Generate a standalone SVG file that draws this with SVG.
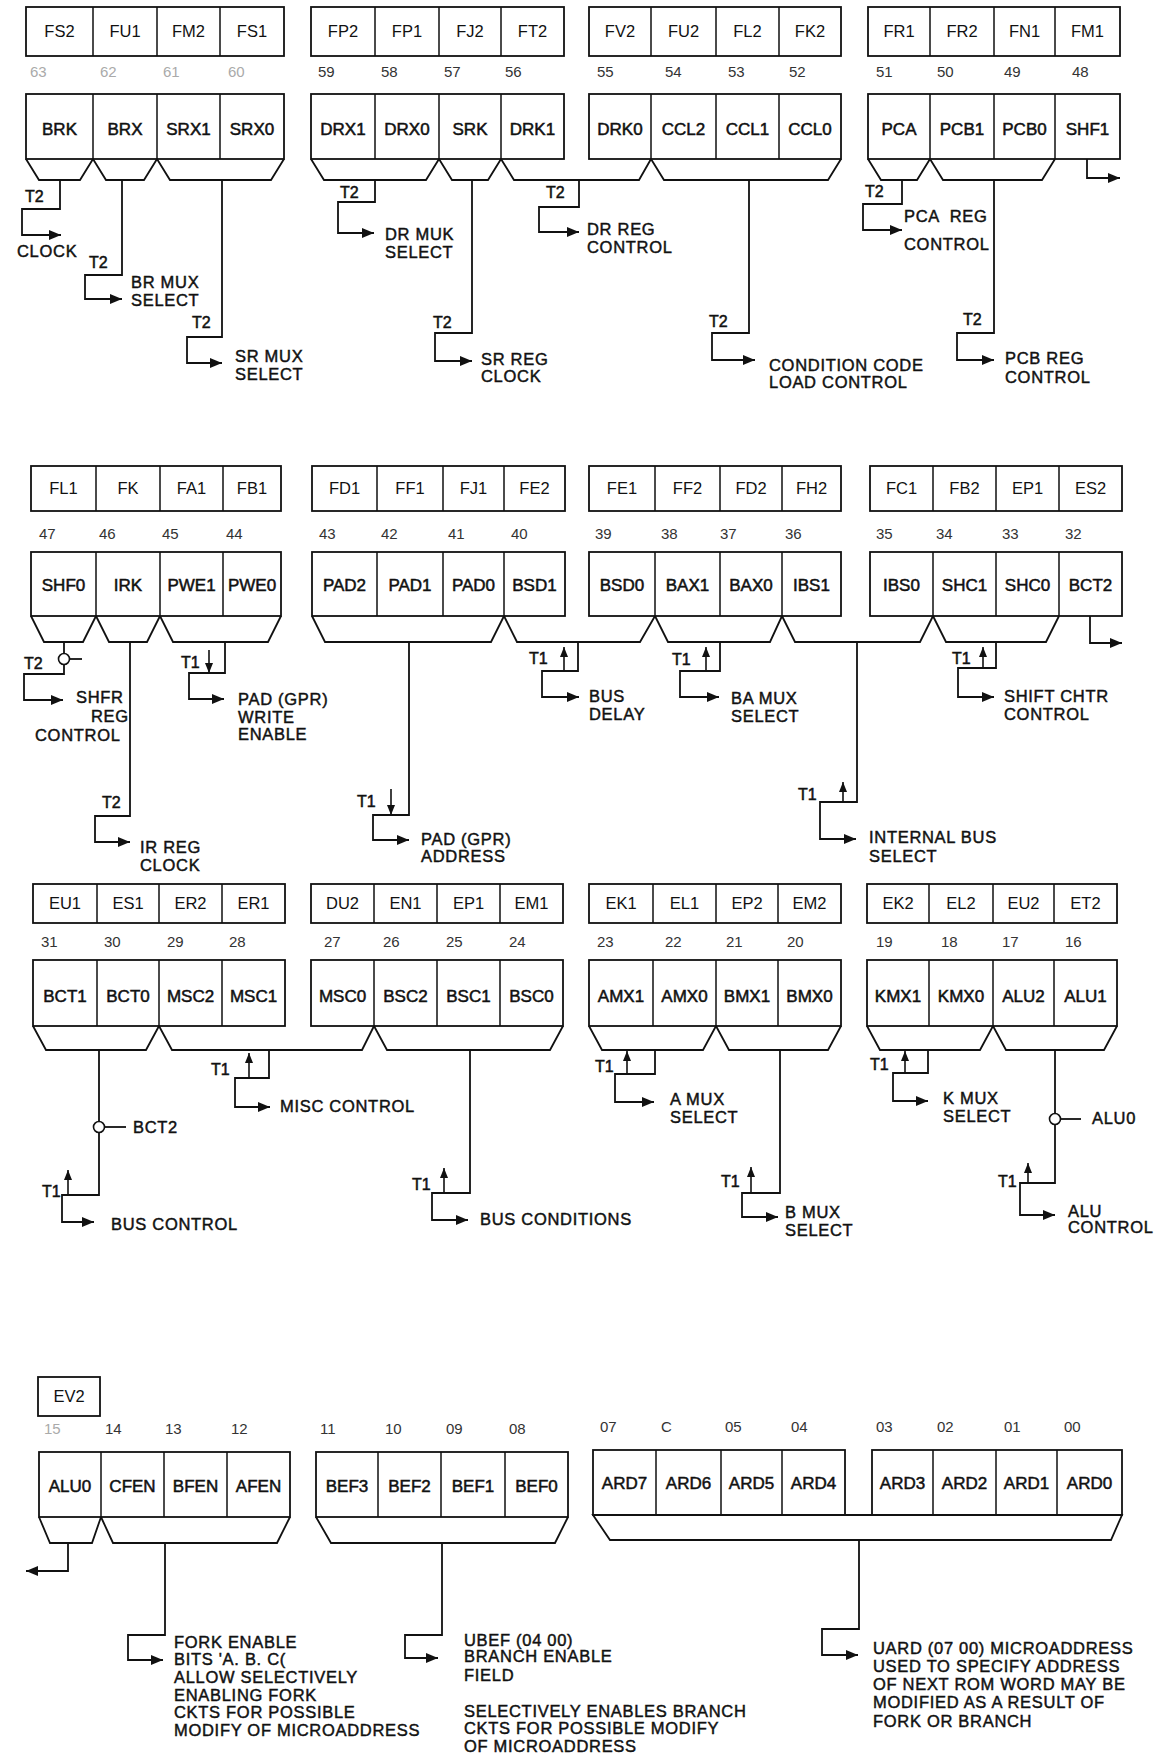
<svg xmlns="http://www.w3.org/2000/svg" width="1160" height="1756" viewBox="0 0 1160 1756">
<defs>
<style>
.bx{fill:#fff;stroke:#111;stroke-width:1.8}
.dv{fill:none;stroke:#111;stroke-width:1.5}
.ln{fill:none;stroke:#111;stroke-width:1.8}
.ar{fill:none;stroke:#111;stroke-width:1.8;marker-end:url(#ah)}
.sa{fill:none;stroke:#111;stroke-width:1.6;marker-end:url(#as)}
.ci{fill:#fff;stroke:#111;stroke-width:1.6}
.tc{font-family:"Liberation Sans",Arial,sans-serif;font-size:16.5px;text-anchor:middle;fill:#111}
.bc{font-family:"Liberation Sans",Arial,sans-serif;font-size:17px;text-anchor:middle;fill:#111;stroke:#111;stroke-width:0.5}
.nm{font-family:"Liberation Sans",Arial,sans-serif;font-size:15px;fill:#333}
.fn{fill:#aaa}
.lb{font-family:"Liberation Sans",Arial,sans-serif;font-size:16.5px;fill:#111;stroke:#111;stroke-width:0.45;letter-spacing:0.7px}
.tl{font-family:"Liberation Sans",Arial,sans-serif;font-size:16px;fill:#111;stroke:#111;stroke-width:0.5}
</style>
<marker id="ah" viewBox="0 0 12 10" refX="12" refY="5" markerWidth="12" markerHeight="10" markerUnits="userSpaceOnUse" orient="auto"><path d="M0,0L12,5L0,10z" fill="#111"/></marker>
<marker id="as" viewBox="0 0 10 8" refX="10" refY="4" markerWidth="10" markerHeight="8" markerUnits="userSpaceOnUse" orient="auto"><path d="M0,0L10,4L0,8z" fill="#111"/></marker>
</defs>
<rect width="1160" height="1756" fill="#fff"/>

<!-- ROW 1 -->
<g id="r1-codes-a"><rect class="bx" x="26" y="7" width="258" height="49"/><path class="dv" d="M93,7V56M157,7V56M220,7V56"/>
<text class="tc" x="59.5" y="37">FS2</text><text class="tc" x="125" y="37">FU1</text><text class="tc" x="188.5" y="37">FM2</text><text class="tc" x="252" y="37">FS1</text></g>
<g id="r1-codes-b"><rect class="bx" x="311" y="7" width="253" height="49"/><path class="dv" d="M375,7V56M439,7V56M501,7V56"/>
<text class="tc" x="343" y="37">FP2</text><text class="tc" x="407" y="37">FP1</text><text class="tc" x="470" y="37">FJ2</text><text class="tc" x="532.5" y="37">FT2</text></g>
<g id="r1-codes-c"><rect class="bx" x="589" y="7" width="252" height="49"/><path class="dv" d="M651,7V56M716,7V56M779,7V56"/>
<text class="tc" x="620" y="37">FV2</text><text class="tc" x="683.5" y="37">FU2</text><text class="tc" x="747.5" y="37">FL2</text><text class="tc" x="810" y="37">FK2</text></g>
<g id="r1-codes-d"><rect class="bx" x="868" y="7" width="252" height="49"/><path class="dv" d="M930,7V56M994,7V56M1055,7V56"/>
<text class="tc" x="899" y="37">FR1</text><text class="tc" x="962" y="37">FR2</text><text class="tc" x="1024.5" y="37">FN1</text><text class="tc" x="1087.5" y="37">FM1</text></g>
<g id="r1-nums">
<text class="nm fn" x="30" y="77">63</text><text class="nm fn" x="100" y="77">62</text><text class="nm fn" x="163" y="77">61</text><text class="nm fn" x="228" y="77">60</text>
<text class="nm" x="318" y="77">59</text><text class="nm" x="381" y="77">58</text><text class="nm" x="444" y="77">57</text><text class="nm" x="505" y="77">56</text>
<text class="nm" x="597" y="77">55</text><text class="nm" x="665" y="77">54</text><text class="nm" x="728" y="77">53</text><text class="nm" x="789" y="77">52</text>
<text class="nm" x="876" y="77">51</text><text class="nm" x="937" y="77">50</text><text class="nm" x="1004" y="77">49</text><text class="nm" x="1072" y="77">48</text></g>
<g id="r1-bits-a"><rect class="bx" x="26" y="94" width="258" height="65"/><path class="dv" d="M93,94V159M157,94V159M220,94V159"/>
<text class="bc" x="59.5" y="135">BRK</text><text class="bc" x="125" y="135">BRX</text><text class="bc" x="188.5" y="135">SRX1</text><text class="bc" x="252" y="135">SRX0</text></g>
<g id="r1-bits-b"><rect class="bx" x="311" y="94" width="253" height="65"/><path class="dv" d="M375,94V159M439,94V159M501,94V159"/>
<text class="bc" x="343" y="135">DRX1</text><text class="bc" x="407" y="135">DRX0</text><text class="bc" x="470" y="135">SRK</text><text class="bc" x="532.5" y="135">DRK1</text></g>
<g id="r1-bits-c"><rect class="bx" x="589" y="94" width="252" height="65"/><path class="dv" d="M651,94V159M716,94V159M779,94V159"/>
<text class="bc" x="620" y="135">DRK0</text><text class="bc" x="683.5" y="135">CCL2</text><text class="bc" x="747.5" y="135">CCL1</text><text class="bc" x="810" y="135">CCL0</text></g>
<g id="r1-bits-d"><rect class="bx" x="868" y="94" width="252" height="65"/><path class="dv" d="M930,94V159M994,94V159M1055,94V159"/>
<text class="bc" x="899" y="135">PCA</text><text class="bc" x="962" y="135">PCB1</text><text class="bc" x="1024.5" y="135">PCB0</text><text class="bc" x="1087.5" y="135">SHF1</text></g>

<!-- ROW 2 -->
<g id="r2-codes-a"><rect class="bx" x="31" y="466" width="250" height="45"/><path class="dv" d="M96,466V511M160,466V511M223,466V511"/>
<text class="tc" x="63.5" y="494">FL1</text><text class="tc" x="128" y="494">FK</text><text class="tc" x="191.5" y="494">FA1</text><text class="tc" x="252" y="494">FB1</text></g>
<g id="r2-codes-b"><rect class="bx" x="312" y="466" width="253" height="45"/><path class="dv" d="M377,466V511M443,466V511M504,466V511"/>
<text class="tc" x="344.5" y="494">FD1</text><text class="tc" x="410" y="494">FF1</text><text class="tc" x="473.5" y="494">FJ1</text><text class="tc" x="534.5" y="494">FE2</text></g>
<g id="r2-codes-c"><rect class="bx" x="589" y="466" width="252" height="45"/><path class="dv" d="M655,466V511M720,466V511M782,466V511"/>
<text class="tc" x="622" y="494">FE1</text><text class="tc" x="687.5" y="494">FF2</text><text class="tc" x="751" y="494">FD2</text><text class="tc" x="811.5" y="494">FH2</text></g>
<g id="r2-codes-d"><rect class="bx" x="870" y="466" width="252" height="45"/><path class="dv" d="M933,466V511M996,466V511M1059,466V511"/>
<text class="tc" x="901.5" y="494">FC1</text><text class="tc" x="964.5" y="494">FB2</text><text class="tc" x="1027.5" y="494">EP1</text><text class="tc" x="1090.5" y="494">ES2</text></g>
<g id="r2-nums">
<text class="nm" x="39" y="539">47</text><text class="nm" x="99" y="539">46</text><text class="nm" x="162" y="539">45</text><text class="nm" x="226" y="539">44</text>
<text class="nm" x="319" y="539">43</text><text class="nm" x="381" y="539">42</text><text class="nm" x="448" y="539">41</text><text class="nm" x="511" y="539">40</text>
<text class="nm" x="595" y="539">39</text><text class="nm" x="661" y="539">38</text><text class="nm" x="720" y="539">37</text><text class="nm" x="785" y="539">36</text>
<text class="nm" x="876" y="539">35</text><text class="nm" x="936" y="539">34</text><text class="nm" x="1002" y="539">33</text><text class="nm" x="1065" y="539">32</text></g>
<g id="r2-bits-a"><rect class="bx" x="31" y="552" width="250" height="64"/><path class="dv" d="M96,552V616M160,552V616M223,552V616"/>
<text class="bc" x="63.5" y="591">SHF0</text><text class="bc" x="128" y="591">IRK</text><text class="bc" x="191.5" y="591">PWE1</text><text class="bc" x="252" y="591">PWE0</text></g>
<g id="r2-bits-b"><rect class="bx" x="312" y="552" width="253" height="64"/><path class="dv" d="M377,552V616M443,552V616M504,552V616"/>
<text class="bc" x="344.5" y="591">PAD2</text><text class="bc" x="410" y="591">PAD1</text><text class="bc" x="473.5" y="591">PAD0</text><text class="bc" x="534.5" y="591">BSD1</text></g>
<g id="r2-bits-c"><rect class="bx" x="589" y="552" width="252" height="64"/><path class="dv" d="M655,552V616M720,552V616M782,552V616"/>
<text class="bc" x="622" y="591">BSD0</text><text class="bc" x="687.5" y="591">BAX1</text><text class="bc" x="751" y="591">BAX0</text><text class="bc" x="811.5" y="591">IBS1</text></g>
<g id="r2-bits-d"><rect class="bx" x="870" y="552" width="252" height="64"/><path class="dv" d="M933,552V616M996,552V616M1059,552V616"/>
<text class="bc" x="901.5" y="591">IBS0</text><text class="bc" x="964.5" y="591">SHC1</text><text class="bc" x="1027.5" y="591">SHC0</text><text class="bc" x="1090.5" y="591">BCT2</text></g>

<!-- ROW 3 -->
<g id="r3-codes-a"><rect class="bx" x="33" y="884" width="252" height="39"/><path class="dv" d="M97,884V923M159,884V923M222,884V923"/>
<text class="tc" x="65" y="909">EU1</text><text class="tc" x="128" y="909">ES1</text><text class="tc" x="190.5" y="909">ER2</text><text class="tc" x="253.5" y="909">ER1</text></g>
<g id="r3-codes-b"><rect class="bx" x="311" y="884" width="252" height="39"/><path class="dv" d="M374,884V923M437,884V923M500,884V923"/>
<text class="tc" x="342.5" y="909">DU2</text><text class="tc" x="405.5" y="909">EN1</text><text class="tc" x="468.5" y="909">EP1</text><text class="tc" x="531.5" y="909">EM1</text></g>
<g id="r3-codes-c"><rect class="bx" x="589" y="884" width="252" height="39"/><path class="dv" d="M653,884V923M716,884V923M778,884V923"/>
<text class="tc" x="621" y="909">EK1</text><text class="tc" x="684.5" y="909">EL1</text><text class="tc" x="747" y="909">EP2</text><text class="tc" x="809.5" y="909">EM2</text></g>
<g id="r3-codes-d"><rect class="bx" x="867" y="884" width="250" height="39"/><path class="dv" d="M929,884V923M993,884V923M1054,884V923"/>
<text class="tc" x="898" y="909">EK2</text><text class="tc" x="961" y="909">EL2</text><text class="tc" x="1023.5" y="909">EU2</text><text class="tc" x="1085.5" y="909">ET2</text></g>
<g id="r3-nums">
<text class="nm" x="41" y="947">31</text><text class="nm" x="104" y="947">30</text><text class="nm" x="167" y="947">29</text><text class="nm" x="229" y="947">28</text>
<text class="nm" x="324" y="947">27</text><text class="nm" x="383" y="947">26</text><text class="nm" x="446" y="947">25</text><text class="nm" x="509" y="947">24</text>
<text class="nm" x="597" y="947">23</text><text class="nm" x="665" y="947">22</text><text class="nm" x="726" y="947">21</text><text class="nm" x="787" y="947">20</text>
<text class="nm" x="876" y="947">19</text><text class="nm" x="941" y="947">18</text><text class="nm" x="1002" y="947">17</text><text class="nm" x="1065" y="947">16</text></g>
<g id="r3-bits-a"><rect class="bx" x="33" y="960" width="252" height="66"/><path class="dv" d="M97,960V1026M159,960V1026M222,960V1026"/>
<text class="bc" x="65" y="1002">BCT1</text><text class="bc" x="128" y="1002">BCT0</text><text class="bc" x="190.5" y="1002">MSC2</text><text class="bc" x="253.5" y="1002">MSC1</text></g>
<g id="r3-bits-b"><rect class="bx" x="311" y="960" width="252" height="66"/><path class="dv" d="M374,960V1026M437,960V1026M500,960V1026"/>
<text class="bc" x="342.5" y="1002">MSC0</text><text class="bc" x="405.5" y="1002">BSC2</text><text class="bc" x="468.5" y="1002">BSC1</text><text class="bc" x="531.5" y="1002">BSC0</text></g>
<g id="r3-bits-c"><rect class="bx" x="589" y="960" width="252" height="66"/><path class="dv" d="M653,960V1026M716,960V1026M778,960V1026"/>
<text class="bc" x="621" y="1002">AMX1</text><text class="bc" x="684.5" y="1002">AMX0</text><text class="bc" x="747" y="1002">BMX1</text><text class="bc" x="809.5" y="1002">BMX0</text></g>
<g id="r3-bits-d"><rect class="bx" x="867" y="960" width="250" height="66"/><path class="dv" d="M929,960V1026M993,960V1026M1054,960V1026"/>
<text class="bc" x="898" y="1002">KMX1</text><text class="bc" x="961" y="1002">KMX0</text><text class="bc" x="1023.5" y="1002">ALU2</text><text class="bc" x="1085.5" y="1002">ALU1</text></g>

<!-- ROW 4 -->
<g id="r4-codes-a"><rect class="bx" x="38" y="1377" width="62" height="39"/><text class="tc" x="69" y="1402">EV2</text></g>
<g id="r4-nums">
<text class="nm fn" x="44" y="1434">15</text><text class="nm" x="105" y="1434">14</text><text class="nm" x="165" y="1434">13</text><text class="nm" x="231" y="1434">12</text>
<text class="nm" x="320" y="1434">11</text><text class="nm" x="385" y="1434">10</text><text class="nm" x="446" y="1434">09</text><text class="nm" x="509" y="1434">08</text>
<text class="nm" x="600" y="1432">07</text><text class="nm" x="661" y="1432">C</text><text class="nm" x="725" y="1432">05</text><text class="nm" x="791" y="1432">04</text>
<text class="nm" x="876" y="1432">03</text><text class="nm" x="937" y="1432">02</text><text class="nm" x="1004" y="1432">01</text><text class="nm" x="1064" y="1432">00</text></g>
<g id="r4-bits-a"><rect class="bx" x="39" y="1452" width="251" height="65"/><path class="dv" d="M101,1452V1517M164,1452V1517M227,1452V1517"/>
<text class="bc" x="70" y="1492">ALU0</text><text class="bc" x="132.5" y="1492">CFEN</text><text class="bc" x="195.5" y="1492">BFEN</text><text class="bc" x="258.5" y="1492">AFEN</text></g>
<g id="r4-bits-b"><rect class="bx" x="316" y="1452" width="252" height="65"/><path class="dv" d="M378,1452V1517M441,1452V1517M505,1452V1517"/>
<text class="bc" x="347" y="1492">BEF3</text><text class="bc" x="409.5" y="1492">BEF2</text><text class="bc" x="473" y="1492">BEF1</text><text class="bc" x="536.5" y="1492">BEF0</text></g>
<g id="r4-bits-c"><rect class="bx" x="593" y="1450" width="252" height="65"/><path class="dv" d="M656,1450V1515M721,1450V1515M782,1450V1515"/>
<text class="bc" x="624.5" y="1489">ARD7</text><text class="bc" x="688.5" y="1489">ARD6</text><text class="bc" x="751.5" y="1489">ARD5</text><text class="bc" x="813.5" y="1489">ARD4</text></g>
<g id="r4-bits-d"><rect class="bx" x="872" y="1450" width="250" height="65"/><path class="dv" d="M933,1450V1515M996,1450V1515M1057,1450V1515"/>
<text class="bc" x="902.5" y="1489">ARD3</text><text class="bc" x="964.5" y="1489">ARD2</text><text class="bc" x="1026.5" y="1489">ARD1</text><text class="bc" x="1089.5" y="1489">ARD0</text></g>

<!-- decoders (trapezoid fields) -->
<g id="decoders" class="ln">
<polyline points="26,159 39,180 80,180 93,159"/>
<polyline points="93,159 106,180 144,180 157,159"/>
<polyline points="157,159 170,180 271,180 284,159"/>
<polyline points="311,159 324,180 426,180 439,159"/>
<polyline points="439,159 452,180 488,180 501,159"/>
<polyline points="501,159 514,180 639,180 651,159"/>
<polyline points="651,159 664,180 828,180 841,159"/>
<polyline points="868,159 881,180 917,180 930,159"/>
<polyline points="930,159 943,180 1042,180 1055,159"/>
<polyline points="31,616 44,642 83,642 96,616"/>
<polyline points="96,616 109,642 147,642 160,616"/>
<polyline points="160,616 173,642 268,642 281,616"/>
<polyline points="312,616 325,642 491,642 504,616"/>
<polyline points="504,616 517,642 640,642 655,616"/>
<polyline points="655,616 668,642 770,642 782,616"/>
<polyline points="782,616 795,642 920,642 933,616"/>
<polyline points="933,616 946,642 1046,642 1059,616"/>
<polyline points="33,1026 46,1050 146,1050 159,1026"/>
<polyline points="159,1026 172,1050 362,1050 374,1026"/>
<polyline points="374,1026 387,1050 550,1050 563,1026"/>
<polyline points="589,1026 602,1050 703,1050 716,1026"/>
<polyline points="716,1026 729,1050 828,1050 841,1026"/>
<polyline points="867,1026 880,1050 980,1050 993,1026"/>
<polyline points="993,1026 1006,1050 1104,1050 1117,1026"/>
<polyline points="39,1517 50,1543 92,1543 101,1517"/>
<polyline points="101,1517 113,1543 277,1543 290,1517"/>
<polyline points="316,1517 331,1543 555,1543 568,1517"/>
<polygon points="593,1515 610,1540 1111,1540 1122,1515"/>
</g>

<!-- connectors -->
<g id="connectors">
<path class="ar" d="M60,180V209H22V235H61"/>
<path class="ar" d="M122,180V275H85V299H122"/>
<path class="ar" d="M222,180V337H187V363H222"/>
<path class="ar" d="M375,180V202H338V233H374"/>
<path class="ar" d="M472,180V333H435V361H472"/>
<path class="ar" d="M579,180V207H539V232H579"/>
<path class="ar" d="M749,180V333H712V360H755"/>
<path class="ar" d="M902,180V204H863V230H902"/>
<path class="ar" d="M994,180V333H957V360H994"/>
<path class="ar" d="M1087,159V178H1120"/>

<path class="ar" d="M64,642V674H24V700H63"/>
<path class="ln" d="M69.5,659H82"/>
<circle class="ci" cx="64" cy="659" r="5.5"/>
<path class="ar" d="M130,642V816H95V842H130"/>
<path class="ar" d="M225,642V673H189V699H224"/>
<path class="sa" d="M209,650V673"/>
<path class="ar" d="M409,642V815H373V840H409"/>
<path class="sa" d="M391,789V815"/>
<path class="ar" d="M578,642V671H542V697H579"/>
<path class="sa" d="M564,671V647"/>
<path class="ar" d="M720,642V671H680V697H719"/>
<path class="sa" d="M706,671V647"/>
<path class="ar" d="M857,642V802H820V839H856"/>
<path class="sa" d="M843,802V782"/>
<path class="ar" d="M996,642V668H958V697H994"/>
<path class="sa" d="M983,668V647"/>
<path class="ar" d="M1090,616V643H1122"/>

<path class="ar" d="M99,1050V1195H62V1222H94"/>
<path class="ln" d="M104.5,1127H126"/>
<circle class="ci" cx="99" cy="1127" r="5.5"/>
<path class="sa" d="M68,1195V1170"/>
<path class="ar" d="M269,1050V1078H235V1107H270"/>
<path class="sa" d="M249,1078V1053"/>
<path class="ar" d="M470,1050V1193H432V1220H468"/>
<path class="sa" d="M444,1193V1168"/>
<path class="ar" d="M655,1050V1074H615V1102H654"/>
<path class="sa" d="M627,1074V1051"/>
<path class="ar" d="M780,1050V1193H742V1217H778"/>
<path class="sa" d="M751,1193V1167"/>
<path class="ar" d="M928,1050V1073H893V1101H928"/>
<path class="sa" d="M905,1073V1051"/>
<path class="ar" d="M1055,1050V1183H1020V1215H1055"/>
<path class="ln" d="M1060.5,1119H1081"/>
<circle class="ci" cx="1055" cy="1119" r="5.5"/>
<path class="sa" d="M1028,1183V1163"/>

<path class="ar" d="M68,1543V1571H26"/>
<path class="ar" d="M165,1543V1635H128V1660H163"/>
<path class="ar" d="M442,1543V1635H405V1658H438"/>
<path class="ar" d="M859,1540V1629H822V1655H858"/>
</g>

<!-- timing labels -->
<g id="timing">
<text class="tl" x="25" y="202">T2</text><text class="tl" x="89" y="268">T2</text><text class="tl" x="192" y="328">T2</text>
<text class="tl" x="340" y="198">T2</text><text class="tl" x="433" y="328">T2</text><text class="tl" x="546" y="198">T2</text>
<text class="tl" x="709" y="327">T2</text><text class="tl" x="865" y="197">T2</text><text class="tl" x="963" y="325">T2</text>
<text class="tl" x="24" y="669">T2</text><text class="tl" x="102" y="808">T2</text><text class="tl" x="181" y="668">T1</text>
<text class="tl" x="357" y="807">T1</text><text class="tl" x="529" y="664">T1</text><text class="tl" x="672" y="665">T1</text>
<text class="tl" x="798" y="800">T1</text><text class="tl" x="952" y="664">T1</text>
<text class="tl" x="42" y="1197">T1</text><text class="tl" x="211" y="1075">T1</text><text class="tl" x="412" y="1190">T1</text>
<text class="tl" x="595" y="1072">T1</text><text class="tl" x="721" y="1187">T1</text><text class="tl" x="870" y="1070">T1</text>
<text class="tl" x="998" y="1187">T1</text>
</g>

<!-- output labels -->
<g id="lbl-clock"><text class="lb" x="17" y="257">CLOCK</text></g>
<g id="lbl-br-mux"><text class="lb" x="131" y="288">BR MUX</text><text class="lb" x="131" y="306">SELECT</text></g>
<g id="lbl-sr-mux"><text class="lb" x="235" y="362">SR MUX</text><text class="lb" x="235" y="380">SELECT</text></g>
<g id="lbl-dr-mux"><text class="lb" x="385" y="240">DR MUK</text><text class="lb" x="385" y="258">SELECT</text></g>
<g id="lbl-sr-reg"><text class="lb" x="481" y="365">SR REG</text><text class="lb" x="481" y="382">CLOCK</text></g>
<g id="lbl-dr-reg"><text class="lb" x="587" y="235">DR REG</text><text class="lb" x="587" y="253">CONTROL</text></g>
<g id="lbl-ccl"><text class="lb" x="769" y="371">CONDITION CODE</text><text class="lb" x="769" y="388">LOAD CONTROL</text></g>
<g id="lbl-pca"><text class="lb" x="904" y="222" xml:space="preserve">PCA  REG</text><text class="lb" x="904" y="250">CONTROL</text></g>
<g id="lbl-pcb"><text class="lb" x="1005" y="364">PCB REG</text><text class="lb" x="1005" y="383">CONTROL</text></g>

<g id="lbl-shfr"><text class="lb" x="76" y="703">SHFR</text><text class="lb" x="91" y="722">REG</text><text class="lb" x="35" y="741">CONTROL</text></g>
<g id="lbl-ir"><text class="lb" x="140" y="853">IR REG</text><text class="lb" x="140" y="871">CLOCK</text></g>
<g id="lbl-pad-we"><text class="lb" x="238" y="705">PAD (GPR)</text><text class="lb" x="238" y="723">WRITE</text><text class="lb" x="238" y="740">ENABLE</text></g>
<g id="lbl-pad-addr"><text class="lb" x="421" y="845">PAD (GPR)</text><text class="lb" x="421" y="862">ADDRESS</text></g>
<g id="lbl-bus-delay"><text class="lb" x="589" y="702">BUS</text><text class="lb" x="589" y="720">DELAY</text></g>
<g id="lbl-ba-mux"><text class="lb" x="731" y="704">BA MUX</text><text class="lb" x="731" y="722">SELECT</text></g>
<g id="lbl-ibs"><text class="lb" x="869" y="843">INTERNAL BUS</text><text class="lb" x="869" y="862">SELECT</text></g>
<g id="lbl-shc"><text class="lb" x="1004" y="702">SHIFT CHTR</text><text class="lb" x="1004" y="720">CONTROL</text></g>

<g id="lbl-bct2"><text class="lb" x="133" y="1133">BCT2</text></g>
<g id="lbl-bus-ctl"><text class="lb" x="111" y="1230">BUS CONTROL</text></g>
<g id="lbl-misc"><text class="lb" x="280" y="1112">MISC CONTROL</text></g>
<g id="lbl-bus-cond"><text class="lb" x="480" y="1225">BUS CONDITIONS</text></g>
<g id="lbl-a-mux"><text class="lb" x="670" y="1105">A MUX</text><text class="lb" x="670" y="1123">SELECT</text></g>
<g id="lbl-b-mux"><text class="lb" x="785" y="1218">B MUX</text><text class="lb" x="785" y="1236">SELECT</text></g>
<g id="lbl-k-mux"><text class="lb" x="943" y="1104">K MUX</text><text class="lb" x="943" y="1122">SELECT</text></g>
<g id="lbl-alu0"><text class="lb" x="1092" y="1124">ALU0</text></g>
<g id="lbl-alu"><text class="lb" x="1068" y="1217">ALU</text><text class="lb" x="1068" y="1233">CONTROL</text></g>

<g id="lbl-fork"><text class="lb" x="174" y="1648">FORK ENABLE</text><text class="lb" x="174" y="1665">BITS 'A. B. C(</text><text class="lb" x="174" y="1683">ALLOW SELECTIVELY</text><text class="lb" x="174" y="1701">ENABLING FORK</text><text class="lb" x="174" y="1718">CKTS FOR POSSIBLE</text><text class="lb" x="174" y="1736">MODIFY OF MICROADDRESS</text></g>
<g id="lbl-ubef"><text class="lb" x="464" y="1646">UBEF (04 00)</text><text class="lb" x="464" y="1662">BRANCH ENABLE</text><text class="lb" x="464" y="1681">FIELD</text><text class="lb" x="464" y="1717">SELECTIVELY ENABLES BRANCH</text><text class="lb" x="464" y="1734">CKTS FOR POSSIBLE MODIFY</text><text class="lb" x="464" y="1752">OF MICROADDRESS</text></g>
<g id="lbl-uard"><text class="lb" x="873" y="1654">UARD (07 00) MICROADDRESS</text><text class="lb" x="873" y="1672">USED TO SPECIFY ADDRESS</text><text class="lb" x="873" y="1690">OF NEXT ROM WORD MAY BE</text><text class="lb" x="873" y="1708">MODIFIED AS A RESULT OF</text><text class="lb" x="873" y="1727">FORK OR BRANCH</text></g>
</svg>
